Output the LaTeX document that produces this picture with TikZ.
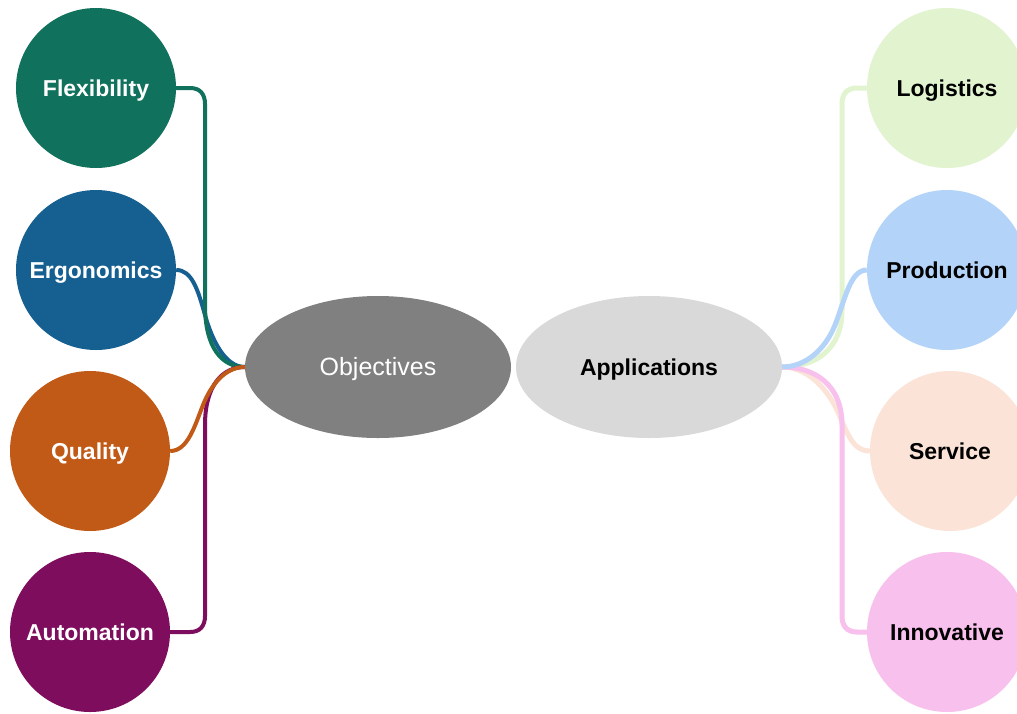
\documentclass[tikz,border=0pt]{standalone}
\usepackage{fontspec}
\setmainfont{Liberation Sans}
\usetikzlibrary{shapes.geometric,backgrounds}
\definecolor{cFlex}{RGB}{16,113,92}
\definecolor{cErgo}{RGB}{22,96,145}
\definecolor{cQual}{RGB}{193,90,22}
\definecolor{cAuto}{RGB}{126,13,94}
\definecolor{cObj}{RGB}{128,128,128}
\definecolor{cApp}{RGB}{217,217,217}
\definecolor{cLog}{RGB}{226,243,207}
\definecolor{cProd}{RGB}{179,212,248}
\definecolor{cServ}{RGB}{251,228,215}
\definecolor{cInno}{RGB}{248,192,236}
\begin{document}
\begin{tikzpicture}[x=1pt,y=-1pt,
  bubble/.style={circle,minimum size=160pt,inner sep=0pt,text height=16.5pt,text depth=0pt,font=\bfseries\fontsize{23}{26}\selectfont},
  lbub/.style={bubble,text=white},
  rbub/.style={bubble,text=black},
  oval/.style={ellipse,minimum width=266pt,minimum height=142pt,inner sep=0pt,text height=17.5pt,text depth=0pt,font=\fontsize{25}{28}\selectfont},
  llink/.style={line width=4pt},
  rlink/.style={line width=5pt}]
\useasboundingbox (0,0) rectangle (1017,713);

\node[lbub,fill=cFlex] (F) at (96,88) {Flexibility};
\node[lbub,fill=cErgo] (E) at (96,270) {Ergonomics};
\node[lbub,fill=cQual] (Q) at (90,451) {Quality};
\node[lbub,fill=cAuto] (A) at (90,632) {Automation};

\node[oval,fill=cObj,text=white] (O) at (378,367) {Objectives};
\node[oval,fill=cApp,text=black,text height=16.5pt,font=\bfseries\fontsize{23}{26}\selectfont] (P) at (649,367) {Applications};

\node[rbub,fill=cLog] (L) at (947,88) {Logistics};
\node[rbub,fill=cProd] (R) at (947,270) {Production};
\node[rbub,fill=cServ] (S) at (950,451) {Service};
\node[rbub,fill=cInno] (I) at (947,632) {Innovative};

\begin{scope}[on background layer]
\fill[white] (0,0) rectangle (1017,713);
\draw[llink,cErgo] (E.east) .. controls (192,270) and (198,290) .. (205,315)
   .. controls (212,340) and (225,367) .. (O.west);
\draw[llink,cFlex] (F.east) -- (190,88) .. controls (200,88) and (205,94) .. (205,104)
   -- (205,305) .. controls (205,348) and (222,367) .. (O.west);
\draw[llink,cAuto] (A.east) -- (190,632) .. controls (200,632) and (205,626) .. (205,616)
   -- (205,425) .. controls (205,386) and (222,367) .. (O.west);
\draw[llink,cQual] (Q.east) .. controls (188,451) and (195,425) .. (203,405)
   .. controls (211,385) and (225,367) .. (O.west);

\draw[rlink,cLog] (P.east) .. controls (815,367) and (842,350) .. (842,310)
   -- (842,104) .. controls (842,94) and (847,88) .. (857,88) -- (L.west);
\draw[rlink,cServ] (P.east) .. controls (805,367) and (825,385) .. (837,410)
   .. controls (847,432) and (852,451) .. (S.west);
\draw[rlink,cInno] (P.east) .. controls (815,367) and (842,385) .. (842,425)
   -- (842,616) .. controls (842,626) and (847,632) .. (857,632) -- (I.west);
\draw[rlink,cProd] (P.east) .. controls (805,367) and (825,350) .. (835,325)
   .. controls (845,300) and (850,270) .. (R.west);
\end{scope}
\end{tikzpicture}
\end{document}
